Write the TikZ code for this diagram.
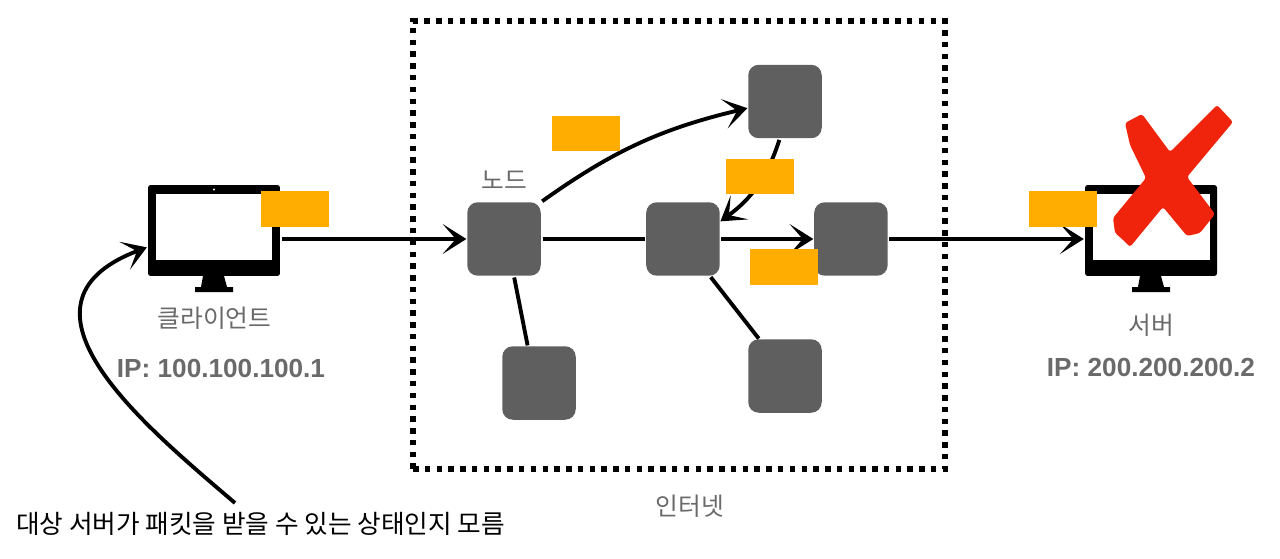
\documentclass[tikz,border=0pt]{standalone}
\usepackage{fontspec}
\setmainfont{Liberation Sans}
\newfontfamily\krfont{Noto Sans CJK KR}
\usetikzlibrary{arrows.meta}
\definecolor{nodegray}{HTML}{5F5F5F}
\definecolor{textgray}{HTML}{6A6A6A}
\definecolor{packetorange}{HTML}{FFAE00}
\definecolor{crossred}{HTML}{F0240C}
\tikzset{>={Stealth[length=13.5pt,width=17pt,inset=7.5pt]},
  wire/.style={black,line width=2.2pt,shorten >=.5pt,shorten <=1pt},
  router/.style={fill=nodegray,rounded corners=6pt,minimum size=1.47cm,inner sep=0pt,outer sep=0pt,node distance=3.58cm},
  packet/.style={fill=packetorange,minimum width=1.36cm,minimum height=.71cm,inner sep=0pt},
  monitor/.style={fill=black,rounded corners=1.5pt,minimum width=2.64cm,minimum height=1.82cm,inner sep=0pt},
  screen/.style={fill=white,minimum width=2.34cm,minimum height=1.32cm,inner sep=0pt},
  label/.style={text=textgray,font=\krfont\fontsize{14.1pt}{16pt}\selectfont,inner sep=0pt},
  address/.style={text=textgray,font=\bfseries\fontsize{14.9pt}{17pt}\selectfont,inner sep=0pt}}

\begin{document}
\begin{tikzpicture}[x=.02cm,y=-.02cm]
  \useasboundingbox (0,0) rectangle (1280,558);

  \node[draw,line width=3.1pt,dash pattern=on 3.1pt off 3.6pt,minimum width=10.64cm,minimum height=8.96cm,inner sep=0pt] (frame) at (679,245) {};

  % both monitors
  \foreach \m/\x in {client/214,server/1151}{
    \node[monitor] (\m) at (\x,230.5) {};
    \node[screen] (\m screen) at (\x,227) {};
    \fill (\x-11,276) -- (\x+10,276) -- (\x+13,287) -- (\x+19,287) -- (\x+19,292)
      -- (\x-19,292) -- (\x-19,287) -- (\x-13,287) -- cycle;
  }
  \fill[white] (214,189.5) circle (1.2);
  \fill[crossred,rounded corners=1.5pt] (1125,123) -- (1142,114) -- (1170,152) -- (1217,105)
    -- (1233,122) -- (1187,177) -- (1215,214) -- (1200,233) -- (1187,236) -- (1163,207)
    -- (1130,247) -- (1121,238) -- (1115,233) -- (1113,218) -- (1146,178) -- (1130,145) -- cycle;

  \node[router] (a) at (504,239) {};
  \node[router] (b) at (785,101.5) {};
  \node[router] (c) [right of=a] {};
  \node[router,node distance=3.36cm] (d) [right of=c] {};
  \node[router] (e) at (539,383) {};
  \node[router] (f) at (785,376) {};

  \node[label] (nodelabel) at (504,180) {노드};
  \node[label] (clientlabel) at (214.5,318) {클라이언트};
  \node[address] (clientip) at (221,368) {IP: 100.100.100.1};
  \node[label] (serverlabel) at (1151,325) {서버};
  \node[address] (serverip) at (1151,367) {IP: 200.200.200.2};
  \node[label] (netlabel) at (690,506) {인터넷};
  \node[font=\krfont\fontsize{14.6pt}{17pt}\selectfont,inner sep=0pt] (note) at (260.5,524) {대상 서버가 패킷을 받을 수 있는 상태인지 모름};
  \coordinate (notetail) at (235,503);

  \path[wire]
  (client.east |- a) edge [->] (a)
  (a) edge (c)
  (c) edge [->] (d)
  (d) edge [->] (server.west |- d)
  (a.north east) edge [->,bend left=11] (b.190)
  (b.-98) edge [->,bend left=18] (c.25)
  (a.-75) edge (e.107)
  (c.-54) edge (f.125)
  ;
  \draw[wire,->,shorten <=0pt] (notetail) .. controls (150,430) and (-5,305) .. (client.194);

  \node[packet] (p1) at (295,209) {};
  \node[packet] (p2) at (586,133.5) {};
  \node[packet] (p3) at (760,176.5) {};
  \node[packet] (p4) at (784,267) {};
  \node[packet] (p5) at (1063,209) {};
\end{tikzpicture}
\end{document}
